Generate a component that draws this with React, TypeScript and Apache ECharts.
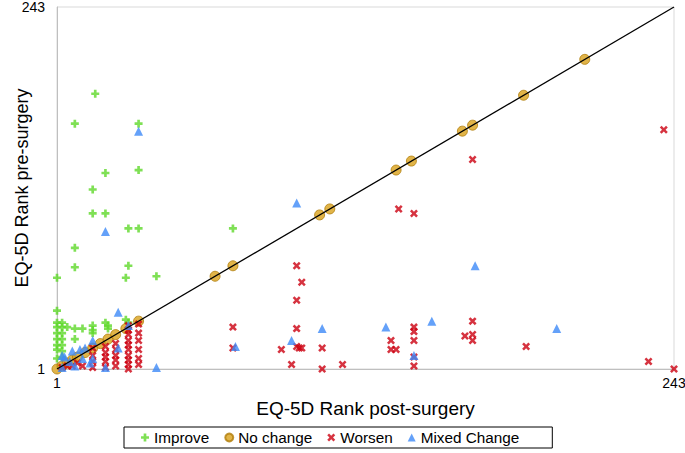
import React, { useEffect, useRef } from "react";
import * as echarts from "echarts";

type Pt = [number, number];

const axisMin = 1;
const axisMax = 243;
const seriesNames = ["Improve", "No change", "Worsen", "Mixed Change"];

const improvePoints: Pt[] = [
  [16, 185], [8, 165], [33, 165], [20, 132], [33, 134], [15, 121], [15, 105], [20, 105],
  [29, 95], [33, 95], [70, 95], [8, 82], [8, 69], [29, 70], [1, 62], [28, 62], [40, 63],
  [1, 40], [1, 32], [3, 32], [1, 29], [3, 29], [5, 29], [8, 28], [11, 28], [8, 21],
  [15, 30], [15, 27], [15, 25], [20, 32], [21, 30], [21, 28], [28, 34], [29, 32],
  [1, 25], [3, 25], [1, 21], [3, 21], [1, 17], [3, 17], [1, 14], [3, 13], [1, 8], [3, 9],
];

const noChangePoints: Pt[] = [
  [1, 1], [3, 3], [5, 5], [7, 7], [9, 9], [12, 12], [15, 15], [18, 18], [21, 21], [24, 24],
  [28, 28], [33, 33], [63, 63], [70, 70], [104, 104], [108, 108], [134, 134], [140, 140],
  [160, 160], [164, 164], [184, 184], [208, 208],
];

const worsenPoints: Pt[] = [
  [3, 2], [5, 3], [7, 3], [9, 5], [11, 3],
  [15, 15], [15, 10], [15, 6], [15, 2],
  [20, 16], [20, 12], [20, 9], [20, 6], [20, 2],
  [24, 18], [24, 14], [24, 10], [24, 7], [24, 3],
  [29, 30], [29, 27], [29, 24], [29, 20], [29, 17], [29, 14], [29, 10], [29, 7], [29, 4], [29, 1],
  [33, 31], [33, 25], [33, 20], [33, 14], [33, 8], [33, 4],
  [70, 29], [70, 15], [89, 14], [95, 70], [97, 59], [95, 47], [95, 28], [95, 16], [96, 15],
  [97, 15], [93, 4], [105, 15], [105, 1], [113, 4],
  [239, 161], [164, 141], [135, 108], [141, 105], [164, 33], [161, 23], [164, 24], [164, 20],
  [141, 29], [141, 26], [141, 20], [132, 20], [132, 14], [134, 14], [141, 9], [141, 3],
  [185, 16], [233, 6], [243, 1],
];

const mixedPoints: Pt[] = [
  [3, 10], [4, 9], [3, 2], [7, 13], [10, 14], [8, 3], [12, 15], [15, 20], [14, 5], [15, 8],
  [20, 2], [25, 15], [29, 30], [25, 39], [40, 2], [6, 6], [11, 8],
  [33, 160], [20, 93], [95, 112], [105, 28], [93, 20], [71, 16], [165, 70], [148, 33],
  [130, 29], [197, 28], [141, 10],
];

const diagonal: Pt[] = [
  [axisMin, axisMin],
  [axisMax, axisMax],
];

const PLUS = "path://M3,0H6V3H9V6H6V9H3V6H0V3H3Z";
const CROSS =
  "path://M0,2L2,0L4.5,2.5L7,0L9,2L6.5,4.5L9,7L7,9L4.5,6.5L2,9L0,7L2.5,4.5Z";

const FONT = "'Liberation Sans', Arial, sans-serif";

export default function App() {
  const ref = useRef<HTMLDivElement>(null);

  useEffect(() => {
    if (!ref.current) return;
    const chart = echarts.init(ref.current, undefined, { renderer: "svg" });
    const axisCommon = {
      type: "value" as const,
      min: axisMin,
      max: axisMax,
      interval: axisMax - axisMin,
      nameLocation: "middle" as const,
      nameMoveOverlap: false,
      axisLine: { show: true, lineStyle: { color: "#bfbfbf", width: 1 } },
      axisTick: { show: false },
      splitLine: { show: false },
      axisLabel: { fontSize: 14, color: "#000", fontFamily: FONT },
    };
    chart.setOption({
      animation: false,
      backgroundColor: "#fff",
      textStyle: { fontFamily: FONT },
      grid: {
        left: 57,
        right: 11,
        top: 7,
        bottom: 84,
        containLabel: false,
        outerBoundsMode: "none",
        show: true,
        borderColor: "#d9d9d9",
        borderWidth: 1,
      },
      legend: {
        data: seriesNames,
        left: 124,
        top: 427,
        orient: "horizontal",
        borderColor: "#000",
        borderWidth: 1,
        padding: [3, 33, 3, 17],
        itemWidth: 8,
        itemHeight: 8,
        itemGap: 15,
        textStyle: { fontSize: 15.3, color: "#000", fontFamily: FONT },
      },
      xAxis: {
        ...axisCommon,
        name: "EQ-5D Rank post-surgery",
        nameGap: 30,
        nameTextStyle: { fontSize: 19, color: "#000", fontFamily: FONT },
        axisLabel: { ...axisCommon.axisLabel, margin: 7 },
      },
      yAxis: {
        ...axisCommon,
        name: "EQ-5D Rank pre-surgery",
        nameGap: 26,
        nameTextStyle: { fontSize: 18, color: "#000", fontFamily: FONT },
        axisLabel: { ...axisCommon.axisLabel, margin: 12 },
      },
      series: [
        {
          name: "Improve",
          type: "scatter",
          symbol: PLUS,
          symbolSize: 8,
          itemStyle: { color: "#5fd82a" },
          data: improvePoints,
          z: 2,
        },
        {
          name: "No change",
          type: "scatter",
          symbol: "circle",
          symbolSize: 10,
          itemStyle: { color: "#d9a11a", borderColor: "#b07d0a", borderWidth: 1 },
          data: noChangePoints,
          z: 3,
        },
        {
          name: "Worsen",
          type: "scatter",
          symbol: CROSS,
          symbolSize: 8,
          itemStyle: { color: "#cc0010" },
          data: worsenPoints,
          z: 4,
        },
        {
          name: "Mixed Change",
          type: "scatter",
          symbol: "triangle",
          symbolSize: 9,
          itemStyle: { color: "#3d8af7" },
          data: mixedPoints,
          z: 5,
        },
        {
          name: "diagonal",
          type: "line",
          data: diagonal,
          symbol: "none",
          lineStyle: { color: "#000", width: 1.3 },
          z: 6,
          silent: true,
        },
      ],
    });
    return () => chart.dispose();
  }, []);

  return (
    <div
      ref={ref}
      style={{ position: "fixed", left: 0, top: 0, width: 685, height: 453 }}
    />
  );
}
